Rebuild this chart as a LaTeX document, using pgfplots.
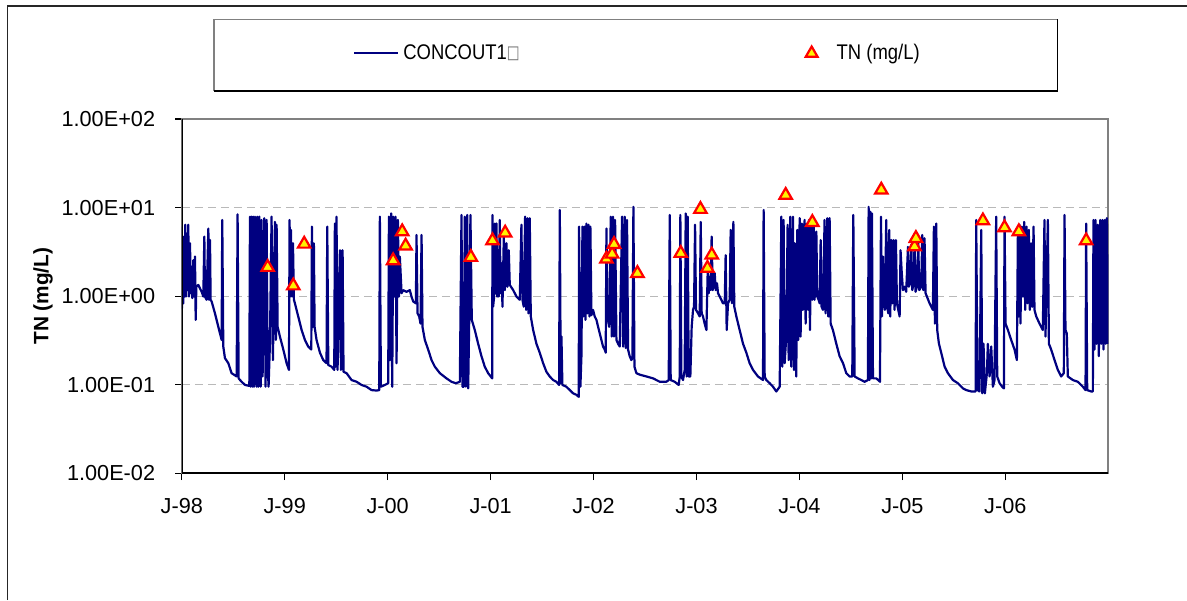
\documentclass[border=0pt]{standalone}
\usepackage{fontspec}
\setmainfont{Liberation Sans}
\newfontfamily\symfont{DejaVu Sans}
\usepackage{graphicx}
\usepackage{pgfplots}
\usepackage{pgfplotstable}
\pgfplotsset{compat=1.18}
\definecolor{navyline}{RGB}{0,0,128}
\definecolor{gridgray}{RGB}{185,185,185}
\definecolor{boxgray}{RGB}{128,128,128}

\pgfplotstableread{
x y
0.000 6.1
0.002 0.73
0.008 2.8
0.015 0.83
0.021 4.7
0.028 0.99
0.034 6.4
0.041 0.99
0.047 5.1
0.054 1.17
0.063 6.4
0.070 0.99
0.080 3.95
0.086 1.08
0.096 2.15
0.102 0.95
0.112 2.55
0.118 0.99
0.128 2.8
0.135 0.54
0.141 1.28
0.160 1.34
0.177 1.22
0.193 1.12
0.209 0.99
0.219 4.7
0.225 0.99
0.241 0.91
0.258 5.8
0.264 0.91
0.274 4.3
0.280 0.91
0.290 0.87
0.322 0.64
0.355 0.45
0.387 0.32
0.393 7.25
0.403 0.27
0.419 0.20
0.452 0.175
0.484 0.135
0.533 0.124
0.542 8.4
0.552 0.118
0.581 0.108
0.614 0.0995
0.656 0.097
0.662 7.9
0.669 0.095
0.678 7.9
0.685 0.095
0.694 7.9
0.701 0.095
0.711 7.9
0.717 0.27
0.727 0.095
0.733 7.9
0.743 0.095
0.753 7.9
0.766 0.095
0.775 7.25
0.785 0.124
0.801 7.6
0.814 0.095
0.824 7.25
0.834 0.175
0.843 0.095
0.856 0.29
0.872 7.9
0.885 0.19
0.905 6.9
0.914 0.32
0.921 6.4
0.931 0.45
0.953 0.35
0.986 0.25
1.018 0.175
1.041 0.147
1.047 7.25
1.054 0.99
1.060 5.6
1.070 0.99
1.080 3.95
1.089 0.91
1.099 0.83
1.131 0.59
1.164 0.415
1.196 0.32
1.228 0.27
1.258 0.25
1.264 6.1
1.274 0.45
1.283 3.95
1.290 0.45
1.309 0.32
1.342 0.23
1.374 0.19
1.406 0.175
1.413 6.1
1.423 0.167
1.455 0.16
1.481 0.147
1.487 6.6
1.494 0.16
1.503 7.9
1.513 0.147
1.536 3.3
1.546 0.147
1.562 3.3
1.571 0.14
1.601 0.135
1.649 0.113
1.698 0.108
1.746 0.0995
1.795 0.095
1.843 0.087
1.892 0.086
1.918 0.087
1.924 7.9
1.934 0.095
1.973 0.0995
2.005 0.104
2.012 7.9
2.021 0.19
2.034 8.6
2.044 0.095
2.054 7.9
2.063 0.99
2.076 7.9
2.086 0.175
2.099 7.25
2.109 0.99
2.118 2.8
2.135 1.08
2.151 1.17
2.183 1.12
2.215 1.17
2.231 0.99
2.248 0.87
2.274 0.83
2.280 4.9
2.290 0.64
2.306 0.59
2.319 0.49
2.329 4.9
2.338 0.45
2.361 0.32
2.393 0.25
2.426 0.19
2.458 0.16
2.507 0.135
2.571 0.118
2.620 0.108
2.662 0.104
2.701 0.108
2.717 8.25
2.727 0.095
2.740 0.095
2.749 7.9
2.759 0.095
2.772 8.25
2.782 0.091
2.791 0.45
2.804 8.25
2.817 0.54
2.846 0.415
2.879 0.29
2.911 0.21
2.943 0.16
2.976 0.135
3.015 0.118
3.018 8.25
3.024 0.76
3.034 0.99
3.041 6.6
3.047 1.08
3.057 6.6
3.063 0.99
3.073 3.3
3.079 0.99
3.089 7.25
3.096 1.08
3.105 2.35
3.115 0.76
3.128 4.7
3.138 1.17
3.154 3.95
3.164 1.28
3.176 3.3
3.186 1.34
3.219 1.17
3.251 0.99
3.283 0.91
3.299 6.4
3.309 0.91
3.322 0.76
3.335 7.9
3.345 0.70
3.358 7.6
3.367 0.64
3.380 7.6
3.390 0.59
3.413 0.415
3.445 0.29
3.477 0.23
3.510 0.175
3.542 0.14
3.574 0.124
3.607 0.113
3.639 0.108
3.665 0.0995
3.672 9.4
3.681 0.104
3.688 0.35
3.697 0.0995
3.736 0.095
3.769 0.087
3.801 0.080
3.833 0.077
3.856 0.073
3.859 6.1
3.872 0.095
3.882 0.21
3.892 6.1
3.901 0.59
3.911 6.1
3.921 0.54
3.930 6.6
3.940 0.64
3.950 6.4
3.960 0.59
3.969 6.1
3.979 0.61
3.995 0.70
4.011 0.59
4.028 0.54
4.044 0.45
4.060 0.38
4.076 0.32
4.092 0.27
4.108 0.25
4.118 0.23
4.125 5.8
4.134 0.59
4.151 0.45
4.167 7.9
4.176 0.35
4.189 7.9
4.199 0.35
4.209 7.25
4.222 0.32
4.238 0.29
4.254 0.27
4.277 7.9
4.287 0.27
4.303 7.9
4.312 0.26
4.325 7.25
4.335 0.25
4.351 0.21
4.367 0.19
4.377 0.20
4.387 10.2
4.397 0.16
4.416 0.135
4.448 0.13
4.513 0.124
4.578 0.118
4.643 0.108
4.707 0.108
4.730 0.113
4.740 8.25
4.749 0.113
4.788 0.108
4.827 0.0995
4.837 0.124
4.843 8.25
4.853 0.124
4.869 0.113
4.885 0.147
4.895 8.6
4.905 0.124
4.914 7.9
4.924 0.124
4.940 0.124
4.953 0.45
4.966 0.70
4.976 0.76
4.986 6.4
4.995 0.70
5.015 0.64
5.031 0.59
5.041 6.9
5.050 0.64
5.063 0.59
5.079 0.49
5.096 0.415
5.109 1.98
5.118 1.08
5.128 1.66
5.138 1.17
5.147 4.7
5.157 1.17
5.167 1.40
5.177 1.81
5.186 1.17
5.199 1.40
5.209 1.08
5.225 0.99
5.241 0.91
5.257 0.83
5.274 0.83
5.283 2.9
5.293 0.415
5.306 0.83
5.322 0.91
5.332 5.6
5.345 0.83
5.358 6.9
5.367 0.76
5.387 0.59
5.419 0.415
5.452 0.29
5.484 0.23
5.516 0.175
5.549 0.147
5.597 0.124
5.646 0.113
5.652 9.4
5.662 0.124
5.678 0.113
5.711 0.104
5.743 0.095
5.775 0.084
5.808 0.095
5.824 7.9
5.833 0.16
5.846 7.25
5.856 0.175
5.872 0.35
5.885 6.4
5.895 0.19
5.911 7.9
5.921 0.16
5.937 7.9
5.947 0.147
5.956 3.95
5.969 0.124
5.979 5.6
5.989 0.32
6.002 7.6
6.011 0.35
6.024 6.6
6.034 0.70
6.050 7.25
6.060 0.49
6.073 6.6
6.083 0.70
6.092 7.25
6.102 0.415
6.115 6.6
6.125 0.91
6.138 6.6
6.147 0.91
6.164 5.35
6.173 0.99
6.186 0.91
6.196 0.83
6.206 4.3
6.215 0.76
6.228 0.70
6.244 7.25
6.254 0.64
6.270 7.6
6.280 0.59
6.293 7.6
6.303 0.49
6.325 0.415
6.358 0.29
6.390 0.21
6.423 0.175
6.455 0.135
6.487 0.124
6.513 0.124
6.523 8.25
6.536 0.124
6.568 0.118
6.601 0.113
6.633 0.108
6.665 0.113
6.672 10.2
6.681 0.113
6.688 9.0
6.698 0.118
6.704 8.6
6.714 0.118
6.746 0.118
6.772 0.111
6.782 0.108
6.792 7.9
6.801 0.59
6.811 2.8
6.821 0.83
6.830 0.70
6.843 7.25
6.853 0.76
6.863 0.64
6.872 5.6
6.882 0.59
6.892 4.3
6.902 0.83
6.914 4.3
6.924 0.70
6.937 4.3
6.947 0.83
6.960 0.70
6.973 0.59
6.982 3.3
6.992 1.98
7.005 1.17
7.021 1.28
7.037 1.12
7.054 3.6
7.063 1.28
7.076 1.40
7.086 3.8
7.096 1.17
7.109 1.40
7.118 3.95
7.128 1.12
7.141 1.28
7.154 3.95
7.164 1.17
7.183 1.28
7.193 4.9
7.203 1.17
7.215 4.5
7.225 1.08
7.238 0.99
7.264 0.83
7.296 0.70
7.306 6.1
7.316 0.49
7.329 6.6
7.338 0.415
7.355 0.29
7.377 0.23
7.410 0.16
7.442 0.135
7.491 0.113
7.539 0.104
7.588 0.091
7.620 0.087
7.669 0.084
7.711 0.084
7.717 7.25
7.730 0.087
7.749 0.084
7.766 5.6
7.775 0.080
7.788 0.29
7.801 0.080
7.821 0.135
7.830 0.29
7.847 0.124
7.863 0.27
7.879 0.095
7.895 0.113
7.911 7.9
7.921 0.124
7.944 0.104
7.969 0.095
7.986 0.091
7.992 7.9
8.002 0.49
8.025 0.415
8.057 0.32
8.089 0.25
8.112 0.19
8.122 5.6
8.131 0.59
8.138 6.4
8.147 0.49
8.160 6.1
8.170 0.99
8.183 6.9
8.193 0.70
8.206 6.1
8.215 0.83
8.228 5.6
8.238 0.70
8.251 3.95
8.261 0.76
8.274 6.1
8.283 0.70
8.300 0.59
8.332 0.49
8.364 0.415
8.380 7.25
8.390 0.35
8.413 7.25
8.423 0.29
8.445 0.25
8.478 0.19
8.510 0.147
8.542 0.124
8.568 0.135
8.575 8.25
8.584 0.415
8.597 0.38
8.607 0.124
8.656 0.113
8.704 0.108
8.753 0.095
8.779 0.087
8.785 6.6
8.795 0.087
8.834 0.084
8.850 0.084
8.856 7.25
8.866 0.25
8.876 7.25
8.885 0.29
8.898 6.4
8.908 0.21
8.921 7.25
8.931 0.29
8.944 7.25
8.953 0.25
8.966 7.25
8.976 0.29
8.986 7.6
8.996 0.29
}\concdata

\pgfplotstableread{
x y
0.834 2.12
1.083 1.31
1.189 3.88
2.053 2.52
2.141 5.35
2.174 3.69
2.808 2.75
3.018 4.23
3.141 5.17
4.125 2.63
4.180 2.99
4.199 3.85
4.426 1.81
4.847 3.05
5.038 9.57
5.106 2.07
5.148 2.92
5.866 13.8
6.125 6.82
6.795 15.8
7.118 3.62
7.131 4.50
7.782 7.11
7.992 5.93
8.131 5.35
8.785 4.23
}\tndata

\begin{document}
\begin{tikzpicture}
\path[use as bounding box] (0pt,0pt) rectangle (593.5pt,-300pt);
\draw[line width=0.8pt, black!85] (3.65pt,-300pt) -- (3.65pt,-3pt) -- (593.5pt,-3pt);
\fill[white] (107pt,-9.65pt) rectangle (528.75pt,-45.35pt);
\draw[line width=0.8pt, boxgray] (107pt,-45.35pt) -- (107pt,-9.65pt) -- (528.75pt,-9.65pt);
\draw[line width=0.8pt, black] (528.75pt,-9.65pt) -- (528.75pt,-45.35pt) -- (107pt,-45.35pt);
\begin{axis}[
  at={(90.9pt,-236.65pt)}, anchor=south west,
  scale only axis, width=463.25pt, height=177.15pt,
  ymode=log, log basis y=10,
  xmin=0, xmax=9, ymin=0.01, ymax=100,
  xtick={0,1,2,3,4,5,6,7,8},
  xticklabels={J-98,J-99,J-00,J-01,J-02,J-03,J-04,J-05,J-06},
  ytick={0.01,0.1,1,10,100},
  yticklabels={1.00E-02,1.00E-01,1.00E+00,1.00E+01,1.00E+02},
  yminorticks=false,
  tick align=outside, tick pos=left,
  major tick length=3.4pt,
  tick style={black, line width=0.6pt},
  ymajorgrids,
  major grid style={gridgray, line width=0.5pt, dash pattern=on 4pt off 2.5pt},
  axis line style={boxgray, line width=0.9pt},
  tick label style={font=\fontsize{10.85}{13}\selectfont},
  yticklabel style={anchor=east, inner sep=0pt, xshift=-9.75pt},
  xticklabel style={anchor=north, inner sep=0pt, yshift=-9pt},
  ylabel={TN (mg/L)},
  every axis y label/.style={at={(axis description cs:-0.1498,0.5)}, rotate=90, anchor=center, font=\bfseries\fontsize{10.4}{12}\selectfont},
  legend columns=2,
  legend cell align=left,
  legend style={at={(axis description cs:0.1848,1.1854)}, anchor=west, draw=none, fill=none,
    inner xsep=0pt, inner ysep=0pt, font=\fontsize{10.6}{12}\selectfont,
    /tikz/every odd column/.append style={column sep=0pt},
    /tikz/every even column/.append style={column sep=138pt}},
]
\addplot[navyline, line width=1.1pt, line join=round,
  legend image code/.code={\draw[navyline, line width=1pt] (0pt,0pt) -- (22pt,0pt);}]
  table[x=x, y=y] {\concdata};
\addlegendentry{\scalebox{0.87}[1]{CONCOUT1}\raisebox{0.3pt}{\symfont\color{black!55}\fontsize{9}{10}\selectfont\scalebox{0.75}[1]{□}}}
\addplot[only marks, mark=triangle*, mark size=3.6pt,
  mark options={fill=yellow, draw=red, line width=1.1pt},
  legend image code/.code={\path[draw=none] plot[mark=triangle*, mark size=3.4pt, mark options={fill=yellow, draw=red, line width=1.1pt}] coordinates {(6pt,0pt)}; \path[draw=none] (0pt,0pt) (16.5pt,0pt);}]
  table[x=x, y=y] {\tndata};
\addlegendentry{\scalebox{0.87}[1]{TN (mg/L)}}
\draw[black, line width=0.9pt] (rel axis cs:0,1) -- (rel axis cs:0,0) -- (rel axis cs:1,0);
\end{axis}
\end{tikzpicture}
\end{document}
